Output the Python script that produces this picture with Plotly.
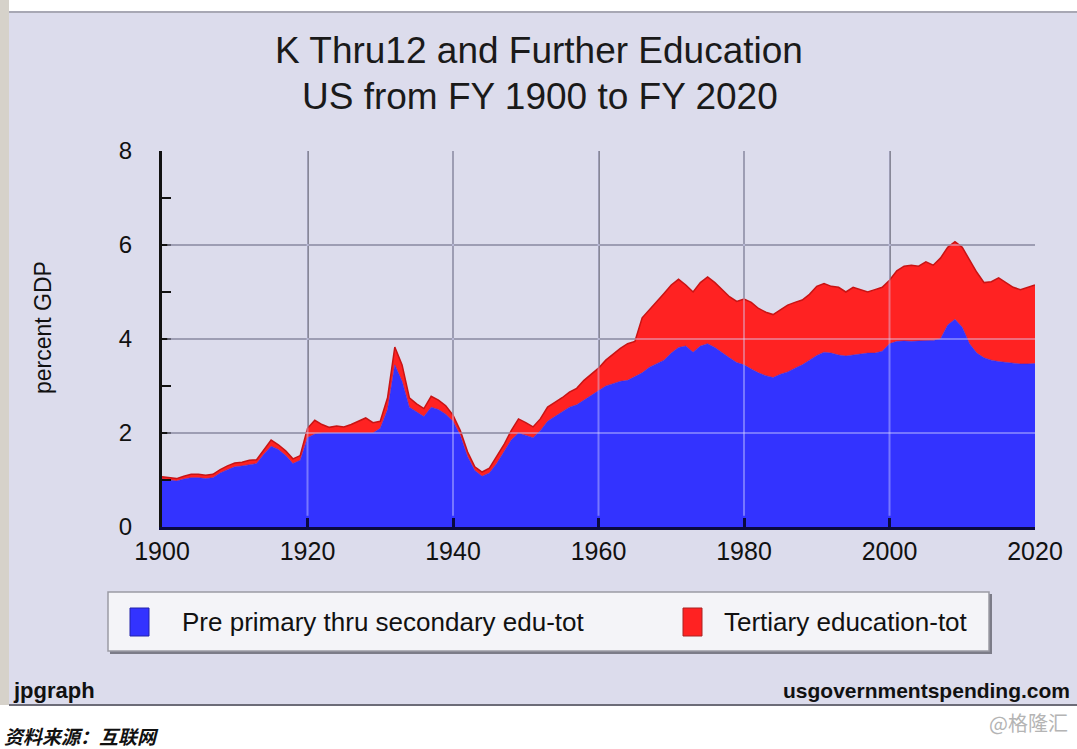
import plotly.graph_objects as go

# ---------------- data ----------------
years = list(range(1900, 2021))

k12_pct_gdp = [
    1.02, 1.00, 0.98, 1.02, 1.05, 1.05, 1.03, 1.05, 1.15, 1.22,   # 1900s
    1.28, 1.30, 1.33, 1.35, 1.55, 1.72, 1.65, 1.52, 1.35, 1.42,   # 1910s
    1.90, 1.98, 2.00, 2.00, 2.00, 2.00, 2.00, 2.00, 2.00, 2.00,   # 1920s
    2.10, 2.50, 3.45, 3.10, 2.55, 2.45, 2.35, 2.55, 2.50, 2.40,   # 1930s
    2.25, 1.95, 1.50, 1.20, 1.08, 1.15, 1.35, 1.60, 1.85, 2.00,   # 1940s
    1.95, 1.90, 2.05, 2.25, 2.35, 2.45, 2.55, 2.60, 2.70, 2.80,   # 1950s
    2.90, 3.00, 3.05, 3.10, 3.12, 3.20, 3.28, 3.40, 3.48, 3.55,   # 1960s
    3.70, 3.82, 3.85, 3.72, 3.85, 3.90, 3.82, 3.70, 3.60, 3.50,   # 1970s
    3.45, 3.36, 3.28, 3.22, 3.18, 3.25, 3.30, 3.38, 3.45, 3.55,   # 1980s
    3.65, 3.72, 3.70, 3.66, 3.64, 3.66, 3.68, 3.70, 3.70, 3.74,   # 1990s
    3.90, 3.95, 3.96, 3.95, 3.96, 3.96, 3.97, 4.00, 4.30, 4.42,   # 2000s
    4.25, 3.90, 3.70, 3.60, 3.55, 3.52, 3.50, 3.48, 3.47, 3.47,   # 2010s
    3.48,                                                         # 2020
]

tertiary_pct_gdp = [
    0.05, 0.05, 0.05, 0.06, 0.07, 0.07, 0.07, 0.07, 0.07, 0.08,   # 1900s
    0.08, 0.08, 0.09, 0.08, 0.10, 0.13, 0.10, 0.10, 0.10, 0.10,   # 1910s
    0.20, 0.29, 0.18, 0.12, 0.15, 0.13, 0.18, 0.25, 0.32, 0.22,   # 1920s
    0.15, 0.25, 0.38, 0.35, 0.20, 0.17, 0.17, 0.23, 0.20, 0.18,   # 1930s
    0.13, 0.10, 0.10, 0.08, 0.09, 0.10, 0.15, 0.15, 0.20, 0.30,   # 1940s
    0.27, 0.23, 0.25, 0.30, 0.30, 0.30, 0.32, 0.35, 0.42, 0.45,   # 1950s
    0.48, 0.55, 0.63, 0.70, 0.78, 0.75, 1.17, 1.22, 1.30, 1.42,   # 1960s
    1.45, 1.45, 1.30, 1.28, 1.35, 1.42, 1.38, 1.34, 1.30, 1.30,   # 1970s
    1.40, 1.42, 1.37, 1.35, 1.34, 1.37, 1.42, 1.40, 1.38, 1.40,   # 1980s
    1.47, 1.46, 1.42, 1.44, 1.36, 1.44, 1.37, 1.30, 1.35, 1.36,   # 1990s
    1.35, 1.50, 1.59, 1.62, 1.59, 1.68, 1.60, 1.72, 1.65, 1.65,   # 2000s
    1.70, 1.78, 1.72, 1.60, 1.67, 1.78, 1.70, 1.62, 1.58, 1.63,   # 2010s
    1.67,                                                         # 2020
]

series_names = ["Pre primary thru secondary edu-tot", "Tertiary education-tot"]
x_tick_vals = [1900, 1920, 1940, 1960, 1980, 2000, 2020]
y_tick_vals = [0, 2, 4, 6, 8]
title_lines = ["K Thru12 and Further Education", "US from FY 1900 to FY 2020"]
y_title = "percent GDP"
footer_left = "jpgraph"
footer_right = "usgovernmentspending.com"
source_note = "资料来源：互联网"
watermark = "@格隆汇"

# ---------------- geometry / style ----------------
W, H = 1077, 749
L, R, T, B = 162, 42, 151, 222
PW, PH = W - L - R, H - T - B
FONT = "Liberation Sans, Arial, sans-serif"
BLUE, RED = "#3333FF", "#FF2222"
PANEL = "#DCDCEC"


def fx(px):
    return (px - L) / PW


def fy(py):
    return (H - B - py) / PH


fig = go.Figure()
fig.add_trace(go.Scatter(
    x=years, y=k12_pct_gdp, name=series_names[0], stackgroup="edu",
    mode="lines", line=dict(width=0.5, color="#2a2ae8"), fillcolor=BLUE,
    showlegend=False))
fig.add_trace(go.Scatter(
    x=years, y=tertiary_pct_gdp, name=series_names[1], stackgroup="edu",
    mode="lines", line=dict(width=1.5, color="#c81414"), fillcolor=RED,
    showlegend=False))

shapes = []
# outer panel, left strip, borders
shapes.append(dict(type="rect", xref="paper", yref="paper", x0=fx(0), x1=fx(9),
                   y0=fy(705), y1=fy(0), fillcolor="#d6d2ca", line=dict(width=0),
                   layer="below"))
shapes.append(dict(type="rect", xref="paper", yref="paper", x0=fx(9), x1=fx(W),
                   y0=fy(705), y1=fy(12), fillcolor=PANEL, line=dict(width=0),
                   layer="below"))
shapes.append(dict(type="line", xref="paper", yref="paper", x0=fx(9), x1=fx(W),
                   y0=fy(12), y1=fy(12), line=dict(color="#a8a8b4", width=2),
                   layer="below"))
shapes.append(dict(type="line", xref="paper", yref="paper", x0=fx(9), x1=fx(W),
                   y0=fy(705), y1=fy(705), line=dict(color="#6c6c78", width=2),
                   layer="below"))

# light grid lines drawn over the filled areas (interior ones)
GRID_OVER = "rgba(215,215,255,0.42)"
for xv in x_tick_vals[1:-1]:
    shapes.append(dict(type="line", xref="x", yref="y domain", x0=xv, x1=xv,
                       y0=0.03, y1=1, line=dict(color=GRID_OVER, width=2),
                       layer="above"))
for yv in y_tick_vals[1:-1]:
    shapes.append(dict(type="line", xref="x domain", yref="y", x0=0.006, x1=1,
                       y0=yv, y1=yv, line=dict(color=GRID_OVER, width=2),
                       layer="above"))

# legend box
shapes.append(dict(type="rect", xref="paper", yref="paper", x0=fx(110), x1=fx(992),
                   y0=fy(654), y1=fy(594), fillcolor="#7c7c88", line=dict(width=0)))
shapes.append(dict(type="rect", xref="paper", yref="paper", x0=fx(108), x1=fx(989),
                   y0=fy(651), y1=fy(592), fillcolor="#f4f4f8",
                   line=dict(color="#9a9aa4", width=1.5)))
shapes.append(dict(type="rect", xref="paper", yref="paper", x0=fx(130), x1=fx(149),
                   y0=fy(636), y1=fy(608), fillcolor=BLUE, line=dict(color="#2222aa", width=1)))
shapes.append(dict(type="rect", xref="paper", yref="paper", x0=fx(683), x1=fx(702),
                   y0=fy(636), y1=fy(608), fillcolor=RED, line=dict(color="#aa2222", width=1)))

annotations = [
    dict(text=title_lines[0], x=fx(539), y=fy(50), xref="paper", yref="paper",
         xanchor="center", yanchor="middle", showarrow=False,
         font=dict(family=FONT, size=37, color="#1a1a1a")),
    dict(text=title_lines[1], x=fx(540), y=fy(96), xref="paper", yref="paper",
         xanchor="center", yanchor="middle", showarrow=False,
         font=dict(family=FONT, size=37, color="#1a1a1a")),
    dict(text=series_names[0], x=fx(180), y=fy(622), xref="paper", yref="paper",
         xanchor="left", yanchor="middle", showarrow=False,
         font=dict(family=FONT, size=26, color="#111")),
    dict(text=series_names[1], x=fx(722), y=fy(622), xref="paper", yref="paper",
         xanchor="left", yanchor="middle", showarrow=False,
         font=dict(family=FONT, size=26, color="#111")),
    dict(text=y_title, x=fx(43), y=fy(328), xref="paper", yref="paper",
         textangle=-90, xanchor="center", yanchor="middle", showarrow=False,
         font=dict(family=FONT, size=23, color="#111")),
    dict(text="<b>" + footer_left + "</b>", x=fx(11), y=fy(690), xref="paper", yref="paper",
         xanchor="left", yanchor="middle", showarrow=False,
         font=dict(family=FONT, size=22, color="#111")),
    dict(text="<b>" + footer_right + "</b>", x=fx(1072), y=fy(690), xref="paper", yref="paper",
         xanchor="right", yanchor="middle", showarrow=False,
         font=dict(family=FONT, size=21, color="#111")),
    dict(text="<b><i>" + source_note + "</i></b>", x=fx(2), y=fy(735), xref="paper", yref="paper",
         xanchor="left", yanchor="middle", showarrow=False,
         font=dict(family="Noto Sans CJK SC, sans-serif", size=19, color="#111")),
    dict(text=watermark, x=fx(1070), y=fy(722), xref="paper", yref="paper",
         xanchor="right", yanchor="middle", showarrow=False,
         font=dict(family="Noto Sans CJK SC, sans-serif", size=20, color="#b4b4b4")),
]

fig.update_layout(
    width=W, height=H,
    margin=dict(l=L, r=R, t=T, b=B, pad=0),
    paper_bgcolor="white", plot_bgcolor="white",
    shapes=shapes, annotations=annotations,
    showlegend=False,
)

fig.update_xaxes(
    range=[x_tick_vals[0], x_tick_vals[-1]], tickvals=x_tick_vals,
    ticks="inside", ticklen=9, tickwidth=3, tickcolor="#0a0a40",
    showline=True, linecolor="#0a0a40", linewidth=3,
    showgrid=True, gridcolor="#74747c", gridwidth=2, zeroline=False,
    tickfont=dict(family=FONT, size=25, color="#111"),
)
fig.update_yaxes(
    range=[y_tick_vals[0], y_tick_vals[-1]], tickvals=y_tick_vals,
    ticks="inside", ticklen=9, tickwidth=2, tickcolor="#111",
    minor=dict(dtick=1, tick0=0, ticks="inside", ticklen=9, tickwidth=2,
               tickcolor="#111", showgrid=False),
    showline=True, linecolor="#111", linewidth=3,
    showgrid=True, gridcolor="#74747c", gridwidth=2, zeroline=False,
    ticklabelstandoff=22,
    tickfont=dict(family=FONT, size=24, color="#111"),
)

fig.write_html("out.html",
               config={"displayModeBar": False},
               post_script="document.body.style.margin='0';document.body.style.overflow='hidden';")
